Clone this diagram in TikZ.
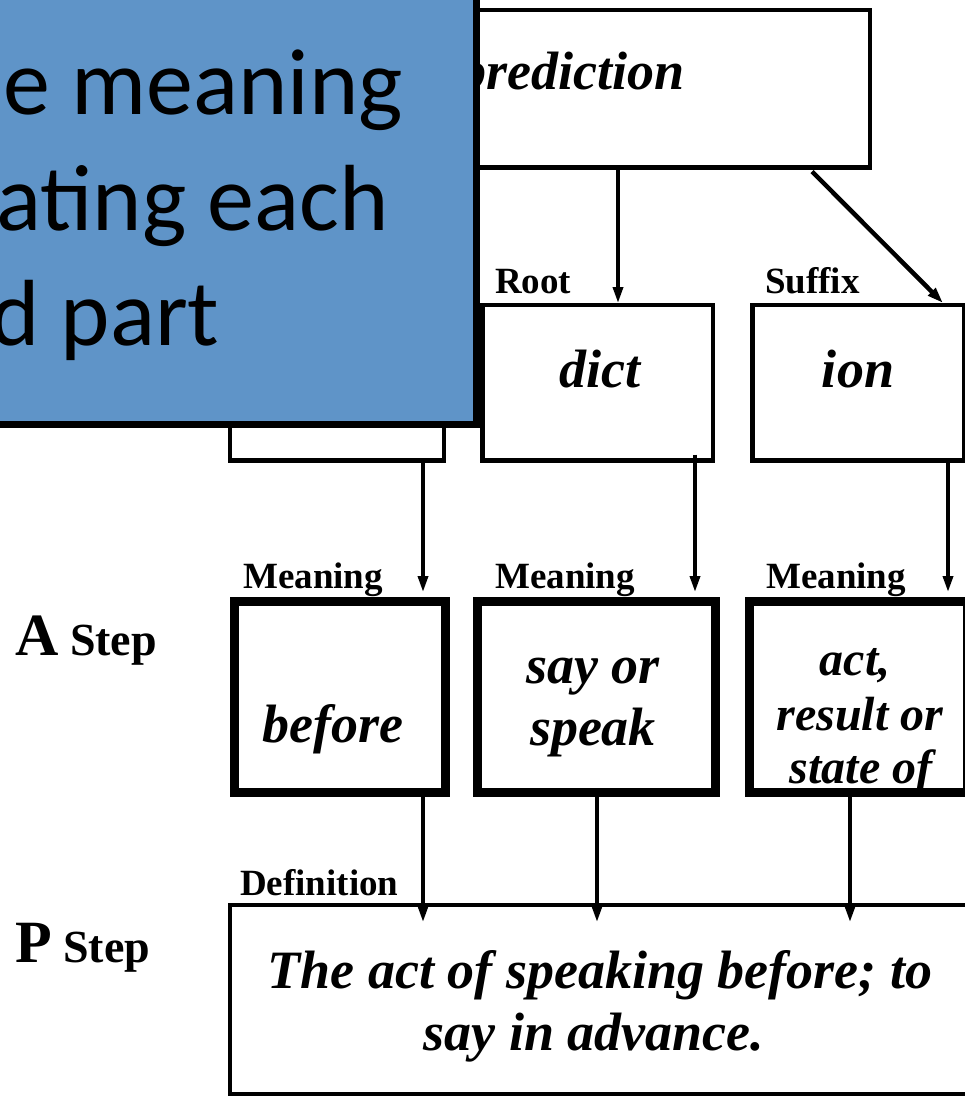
\documentclass[tikz,border=0pt]{standalone}
\usepackage{fontspec}
\setmainfont{Liberation Serif}
\newfontfamily\notefont{Carlito}
\usetikzlibrary{arrows.meta}
\definecolor{noteblue}{RGB}{95,148,200}
\begin{document}
\begin{tikzpicture}[x=1pt,y=-1pt,
  thinbox/.style={draw, line width=4.5pt, inner sep=0pt, outer sep=0pt},
  thickbox/.style={draw, line width=9pt, inner sep=0pt, outer sep=0pt},
  word/.style={inner sep=0pt, font=\bfseries\itshape\fontsize{54}{62}\selectfont},
  smallword/.style={inner sep=0pt, anchor=base, font=\bfseries\itshape\fontsize{48}{54}\selectfont},
  tag/.style={inner sep=0pt, anchor=base west, font=\bfseries\fontsize{37}{40}\selectfont},
  steplabel/.style={inner sep=0pt, anchor=base west, font=\bfseries\fontsize{46}{50}\selectfont},
  arr/.style={line width=3.5pt, -{Triangle[length=16pt,width=10pt]}},
  notetxt/.style={inner sep=0pt, anchor=base west, font=\notefont\fontsize{94}{115}\selectfont}]
\useasboundingbox (0,0) rectangle (965,1097);

% word and its parts
\node[thinbox, minimum width=640pt, minimum height=157.5pt] (pred) at (550,88.75) {};
\node[word, anchor=base east] (predtxt) at (685,90) {prediction};
\node[thinbox, minimum width=214pt, minimum height=155.5pt] (prefix) at (337,382.75) {};
\node[thinbox, minimum width=230.5pt, minimum height=155.5pt] (dict) at (597.75,382.75) {};
\node[thinbox, minimum width=211.5pt, minimum height=155.5pt] (ion) at (858.25,382.75) {};
\node[word, anchor=base] (dicttxt) at (600,387) {dict};
\node[word, anchor=base] (iontxt) at (858,387) {ion};
\node[tag] (root) at (495,293) {Root};
\node[tag] (suffix) at (765,293) {Suffix};

% meanings (A step)
\node[thickbox, minimum width=211pt, minimum height=191pt] (m1) at (340,697) {};
\node[thickbox, minimum width=238pt, minimum height=191pt] (m2) at (596.5,697) {};
\node[thickbox, minimum width=217.5pt, minimum height=191pt] (m3) at (858.25,697) {};
\node[word, anchor=base] (m1txt) at (333,742) {before};
\node[word, anchor=base] (m2txta) at (593,683) {say or};
\node[word, anchor=base] (m2txtb) at (593,745) {speak};
\node[smallword] (m3txta) at (855,675) {act,};
\node[smallword] (m3txtb) at (860,730) {result or};
\node[smallword] (m3txtc) at (861,783) {state of};
\node[tag] (mean1) at (243,588) {Meaning};
\node[tag] (mean2) at (495,588) {Meaning};
\node[tag] (mean3) at (766,588) {Meaning};
\node[steplabel] (astep) at (15,655) {{\fontsize{60}{60}\selectfont A} Step};

% definition (P step)
\node[thinbox, minimum width=745pt, minimum height=189pt] (def) at (602.5,999.5) {};
\node[word, anchor=base] (deftxta) at (600,988) {The act of speaking before; to};
\node[word, anchor=base] (deftxtb) at (594,1050) {say in advance.};
\node[tag] (defn) at (240,895) {Definition};
\node[steplabel] (pstep) at (15,962) {{\fontsize{60}{60}\selectfont P} Step};

% connectors
\draw[arr] ([xshift=68pt]pred.south) -- ([xshift=20.25pt,yshift=2pt]dict.north);
\draw[arr, line width=4.5pt] ([xshift=262pt,yshift=-4pt]pred.south) -- ([xshift=84.75pt,yshift=2pt]ion.north);
\draw[arr] ([xshift=86pt]prefix.south) -- ([xshift=83pt,yshift=9.5pt]m1.north);
\draw[arr] ([xshift=97.25pt,yshift=6pt]dict.south) -- ([xshift=98.5pt,yshift=9.5pt]m2.north);
\draw[arr] ([xshift=89.75pt]ion.south) -- ([xshift=89.75pt,yshift=9.5pt]m3.north);
\draw[arr] ([xshift=83pt]m1.south) -- ([xshift=-179.5pt,yshift=-17pt]def.north);
\draw[arr] ([xshift=0.5pt]m2.south) -- ([xshift=-5.5pt,yshift=-17pt]def.north);
\draw[arr] ([xshift=-8.25pt]m3.south) -- ([xshift=247.5pt,yshift=-17pt]def.north);

% overlaid note
\node[draw, fill=noteblue, line width=7pt, inner sep=0pt,
      minimum width=500pt, minimum height=450pt] (note) at (226.5,199.5) {};
\node[notetxt] (notea) at (3,115) {e meaning};
\node[notetxt] (noteb) at (-4,230) {ating each};
\node[notetxt] (notec) at (-10,345) {d part};
\end{tikzpicture}
\end{document}
